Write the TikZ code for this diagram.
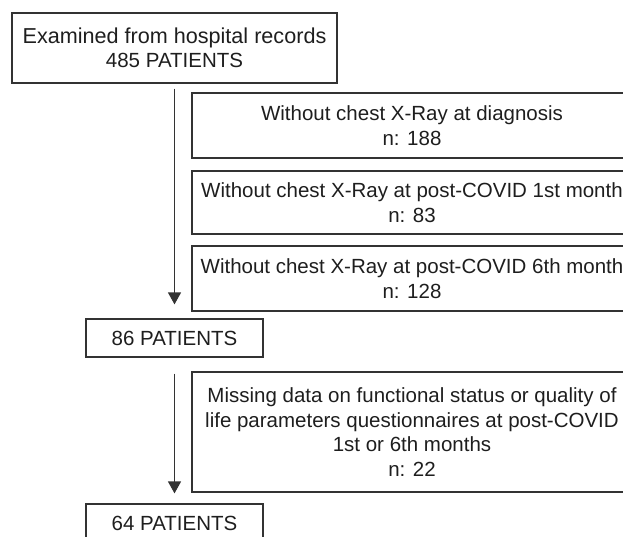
\documentclass[tikz,border=0pt]{standalone}
\usepackage{fontspec}
\setmainfont{Liberation Sans}
\usetikzlibrary{arrows.meta}
\definecolor{linegray}{HTML}{333333}
\definecolor{textgray}{HTML}{1E1E1E}
\begin{document}
\begin{tikzpicture}[x=1pt,y=-1pt,
  box/.style={draw=linegray, line width=1.2pt, rectangle, inner sep=0pt, align=center,
    font=\fontsize{20.5}{24.5}\selectfont, text=textgray},
  widebox/.style={box, minimum width=440pt},
  patbox/.style={box, minimum width=177pt, minimum height=38pt},
  arr/.style={draw=linegray, line width=1.3pt, -{Triangle[width=13pt,length=12pt]}}]
\useasboundingbox (0,0) rectangle (623,537);
\clip (0,0) rectangle (623,537);
\node[box, minimum width=325pt, minimum height=70pt] (top) at (174.5,48)
  {{\fontsize{21.6}{24.5}\selectfont Examined from hospital records}\\485 PATIENTS};
\node[widebox, minimum height=65pt] (x1) at (412,125.5)
  {Without chest X-Ray at diagnosis\\n: 188};
\node[widebox, minimum height=63pt] (x2) at (412,202.5)
  {Without chest X-Ray at post-COVID 1st month\\n: 83};
\node[widebox, minimum height=65pt] (x3) at (412,278.5)
  {Without chest X-Ray at post-COVID 6th month\\n: 128};
\node[patbox] (p86) at (174.5,338) {86 PATIENTS};
\node[widebox, minimum height=120pt] (miss) at (412,432)
  {Missing data on functional status or quality of\\life parameters questionnaires at post-COVID\\1st or 6th months\\n: 22};
\node[patbox] (p64) at (174.5,523) {64 PATIENTS};
\draw[arr, shorten <=5pt, shorten >=14pt] (top.south) -- (p86.north);
\draw[arr, shorten <=16pt, shorten >=10pt] (p86.south) -- (p64.north);
\end{tikzpicture}
\end{document}
